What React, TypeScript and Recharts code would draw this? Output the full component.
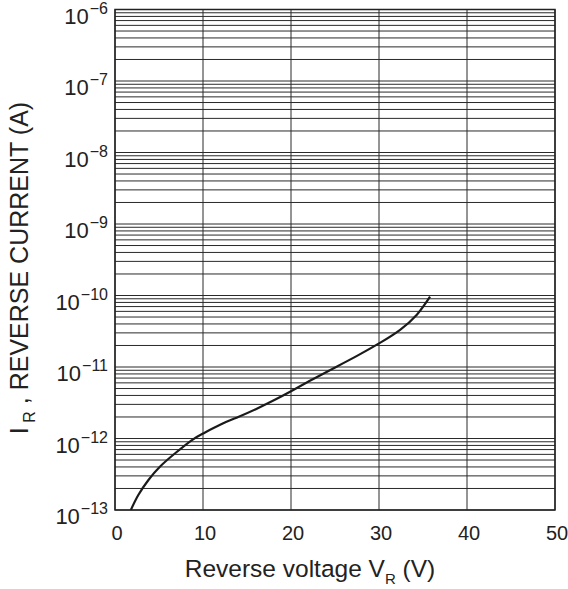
import React from "react";
import { LineChart, Line, XAxis, YAxis, CartesianGrid, ReferenceArea } from "recharts";

const voltage = [1.8, 2.65, 3.8, 5.1, 6.8, 8.7, 10.0, 12.0, 14.0, 16.0, 18.0, 20.0, 22.2, 24.8, 27.5, 30.2, 32.4, 34.3, 35.8];
const current = [1.0e-13, 1.62e-13, 2.63e-13, 4.03e-13, 6.17e-13, 9.44e-13, 1.175e-12, 1.567e-12, 2.0e-12, 2.57e-12, 3.39e-12, 4.57e-12, 6.46e-12, 9.55e-12, 1.43e-11, 2.21e-11, 3.31e-11, 5.37e-11, 9.62e-11];

const xTicks = [0, 10, 20, 30, 40, 50];
const decadeExponents = [-13, -12, -11, -10, -9, -8, -7, -6];
const minorMultipliers = [1, 2, 3, 4, 5, 6, 7, 8, 9];

const data = voltage.map((v, i) => ({ v, i: current[i] }));

const yTicks: number[] = [];
decadeExponents.forEach((e, idx) => {
  if (idx === decadeExponents.length - 1) {
    yTicks.push(Math.pow(10, e));
  } else {
    minorMultipliers.forEach((m) => yTicks.push(Number((m * Math.pow(10, e)).toPrecision(3))));
  }
});

const FONT = "'Liberation Sans', Arial, sans-serif";

const YTick = (props: any) => {
  const { x, y, payload } = props;
  const val = payload.value as number;
  const exp = Math.log10(val);
  const rounded = Math.round(exp);
  if (Math.abs(exp - rounded) > 1e-6) return null;
  return (
    <text x={x + 1} y={y + 14} textAnchor="end" fill="#222" fontFamily={FONT}>
      <tspan fontSize={22}>10</tspan>
      <tspan fontSize={16} dy={-10} dx={1}>{"\u2212" + Math.abs(rounded)}</tspan>
    </text>
  );
};

const XTick = (props: any) => {
  const { x, y, payload } = props;
  return (
    <text x={x + 2} y={y + 22} textAnchor="middle" fill="#222" fontFamily={FONT} fontSize={20}>
      {payload.value}
    </text>
  );
};

export default function App() {
  return (
    <div style={{ position: "absolute", left: 0, top: 0, width: 568, height: 589, background: "#fff" }}>
      <LineChart width={568} height={589} data={data} margin={{ top: 9.5, right: 13, left: 0, bottom: 0 }}>
        <CartesianGrid stroke="#2a2a2a" strokeWidth={1} />
        <XAxis
          dataKey="v"
          type="number"
          domain={[0, 50]}
          ticks={xTicks}
          tick={<XTick />}
          tickLine={false}
          axisLine={false}
          height={79}
          interval={0}
        />
        <YAxis
          type="number"
          scale="log"
          domain={[1e-13, 1e-6]}
          ticks={yTicks}
          tick={<YTick />}
          tickLine={false}
          axisLine={false}
          width={115}
          interval={0}
          allowDataOverflow
        />
        <ReferenceArea x1={0} x2={50} y1={1e-13} y2={1e-6} fill="none" stroke="#222" strokeWidth={1.5} ifOverflow="visible" />
        <Line type="natural" dataKey="i" stroke="#1a1a1a" strokeWidth={2.2} dot={false} isAnimationActive={false} />
        <text x={310} y={577} textAnchor="middle" fontFamily={FONT} fontSize={24.5} fill="#222">
          Reverse voltage V
          <tspan fontSize={15} dy={7}>R</tspan>
          <tspan dy={-7}> (V)</tspan>
        </text>
        <text
          transform="translate(28, 268) rotate(-90)"
          textAnchor="middle"
          fontFamily={FONT}
          fontSize={25}
          fill="#222"
        >
          I
          <tspan fontSize={16} dy={7}> R</tspan>
          <tspan dy={-7}> ,  REVERSE CURRENT (A)</tspan>
        </text>
      </LineChart>
    </div>
  );
}
